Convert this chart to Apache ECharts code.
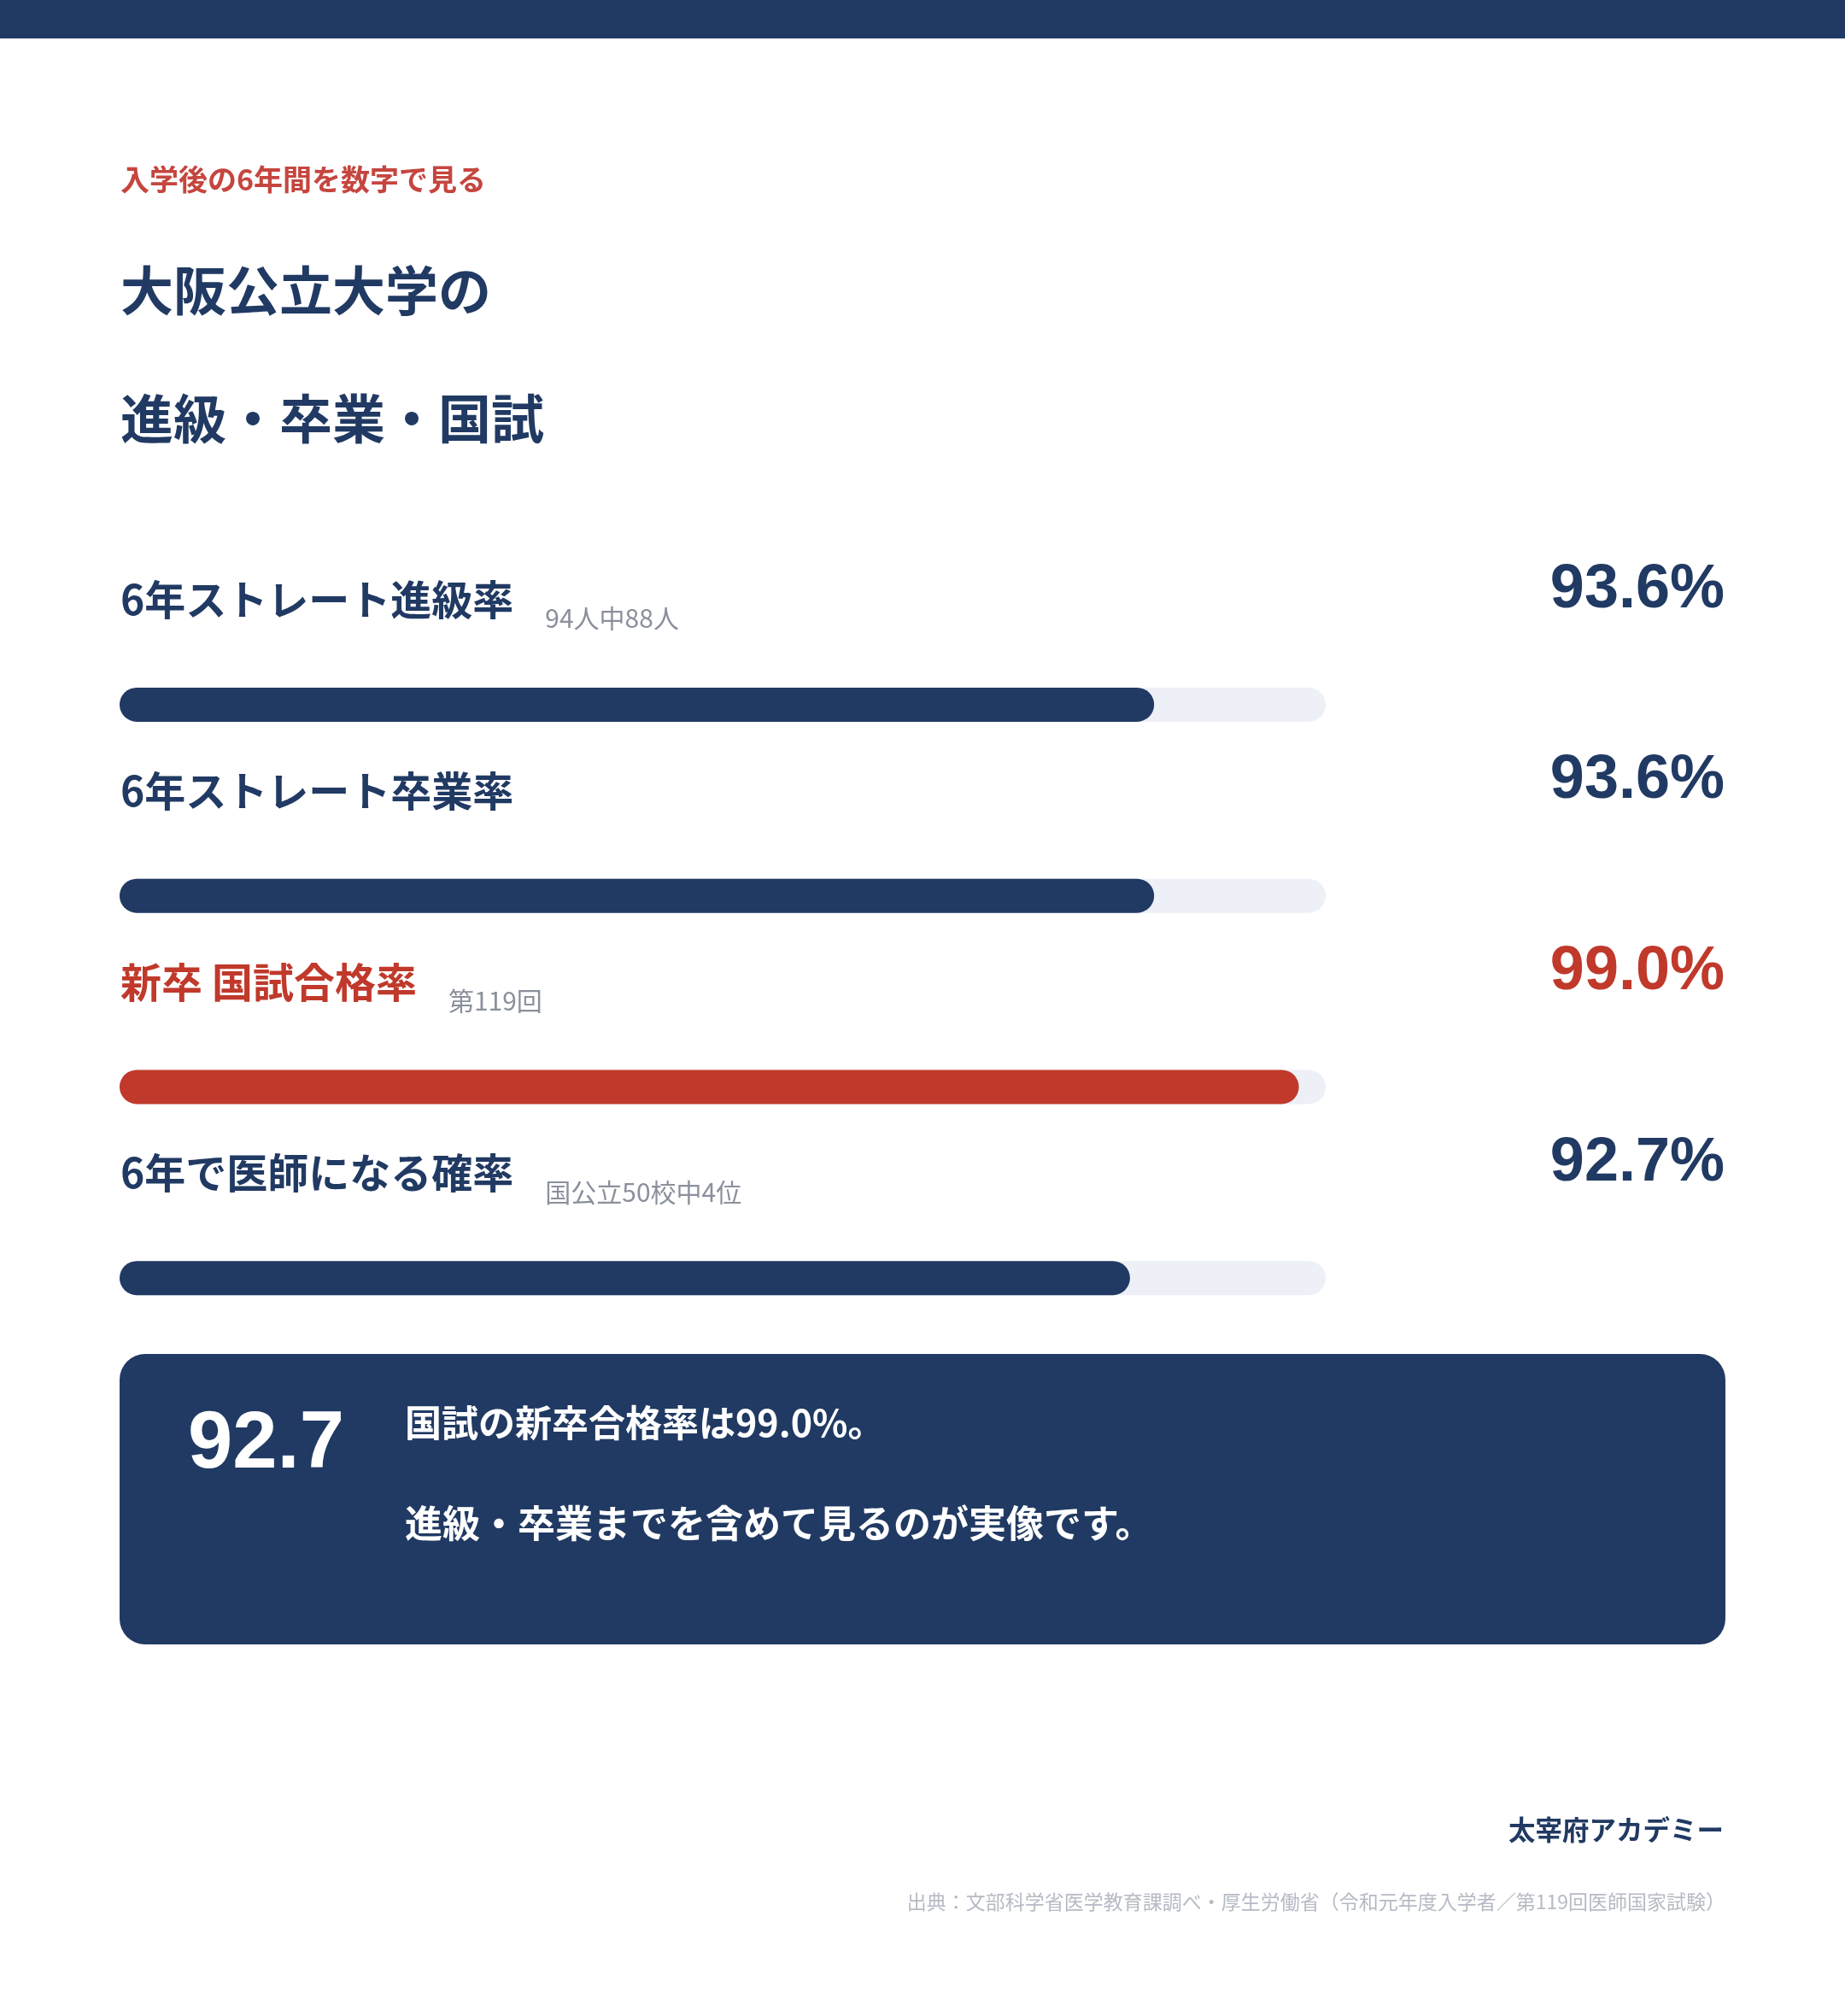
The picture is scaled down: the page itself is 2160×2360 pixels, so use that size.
<!DOCTYPE html>
<html lang="ja">
<head>
<meta charset="utf-8">
<title>大阪公立大学の進級・卒業・国試</title>
<script src="https://cdn.jsdelivr.net/npm/echarts@6/dist/echarts.min.js"></script>
<style>
  html, body { margin: 0; padding: 0; background: #ffffff; }
  #chart { width: 2160px; height: 2360px; }
</style>
</head>
<body>
<div id="chart"></div>
<script>
// data
const categories = ["6年ストレート進級率", "6年ストレート卒業率", "新卒 国試合格率", "6年で医師になる確率"];
const rates = [93.6, 93.6, 99.0, 92.7];
const notes = ["94人中88人", "", "第119回", "国公立50校中4位"];
const highlight = [false, false, true, false];
const axisMin = 55;
const axisMax = 100;

const kicker = "入学後の6年間を数字で見る";
const titleLines = ["大阪公立大学の", "進級・卒業・国試"];
const calloutNumber = "92.7";
const calloutLines = ["国試の新卒合格率は99.0%。", "進級・卒業までを含めて見るのが実像です。"];
const brand = "太宰府アカデミー";
const source = "出典：文部科学省医学教育課調べ・厚生労働省（令和元年度入学者／第119回医師国家試験）";

const NAVY = "#213a63";
const RED = "#c0392b";
const KICKER_RED = "#c5463f";
const TRACK = "#edf0f7";
const GRAY = "#8a909c";
const LIGHT = "#b5bac4";
const JP = '"Noto Sans CJK JP", "Noto Sans", sans-serif';
const NUM = '"Liberation Sans", Arial, sans-serif';

const chart = echarts.init(document.getElementById("chart"), null, { renderer: "canvas" });

chart.setOption({
  animation: false,
  backgroundColor: "#ffffff",
  grid: { left: 140, top: 713, width: 1412, height: 895 },
  xAxis: { type: "value", min: axisMin, max: axisMax, startValue: axisMin, show: false },
  yAxis: { type: "category", data: categories, inverse: true, show: false },
  series: [{
    type: "bar",
    silent: true,
    barWidth: 40,
    data: rates.map((v, i) => ({ value: v, itemStyle: { color: highlight[i] ? RED : NAVY } })),
    itemStyle: { borderRadius: 20 },
    showBackground: true,
    backgroundStyle: { color: TRACK, borderRadius: 20 }
  }]
});

const measure = document.createElement("canvas").getContext("2d");
function textWidth(text, font) {
  measure.font = font;
  return measure.measureText(text).width;
}

function txt(text, x, y, size, color, opts = {}) {
  return {
    type: "text",
    x, y,
    silent: true,
    style: {
      text,
      fontSize: size,
      fontWeight: opts.weight || "bold",
      fontFamily: opts.family || JP,
      fill: color,
      align: opts.align || "left",
      verticalAlign: "middle"
    }
  };
}

const graphics = [
  { type: "rect", silent: true, shape: { x: 0, y: 0, width: 2160, height: 45 }, style: { fill: NAVY } },
  txt(kicker, 141, 210, 34, KICKER_RED),
  txt(titleLines[0], 141, 340, 62, NAVY),
  txt(titleLines[1], 141, 490, 62, NAVY)
];

categories.forEach((name, i) => {
  const y = chart.convertToPixel({ yAxisIndex: 0 }, i);
  const color = highlight[i] ? RED : NAVY;
  graphics.push(txt(name, 141, y - 123, 48, color));
  if (notes[i]) {
    const w = textWidth(name, "bold 48px " + JP);
    graphics.push(txt(notes[i], 141 + w + 37, y - 101, 30, GRAY, { weight: "normal" }));
  }
  graphics.push(txt(rates[i].toFixed(1) + "%", 2019, y - 134, 72, color, { family: NUM, align: "right" }));
});

graphics.push(
  { type: "rect", silent: true, shape: { x: 140, y: 1585, width: 1880, height: 340, r: 30 }, style: { fill: NAVY } },
  txt(calloutNumber, 220, 1692, 94, "#ffffff", { family: NUM }),
  txt(calloutLines[0], 474, 1666, 43, "#ffffff"),
  txt(calloutLines[1], 474, 1783, 44, "#ffffff"),
  txt(brand, 2018, 2142, 31.5, NAVY, { align: "right" }),
  txt(source, 2020, 2226, 23, LIGHT, { weight: "normal", align: "right" })
);

chart.setOption({ graphic: graphics });
</script>
</body>
</html>
